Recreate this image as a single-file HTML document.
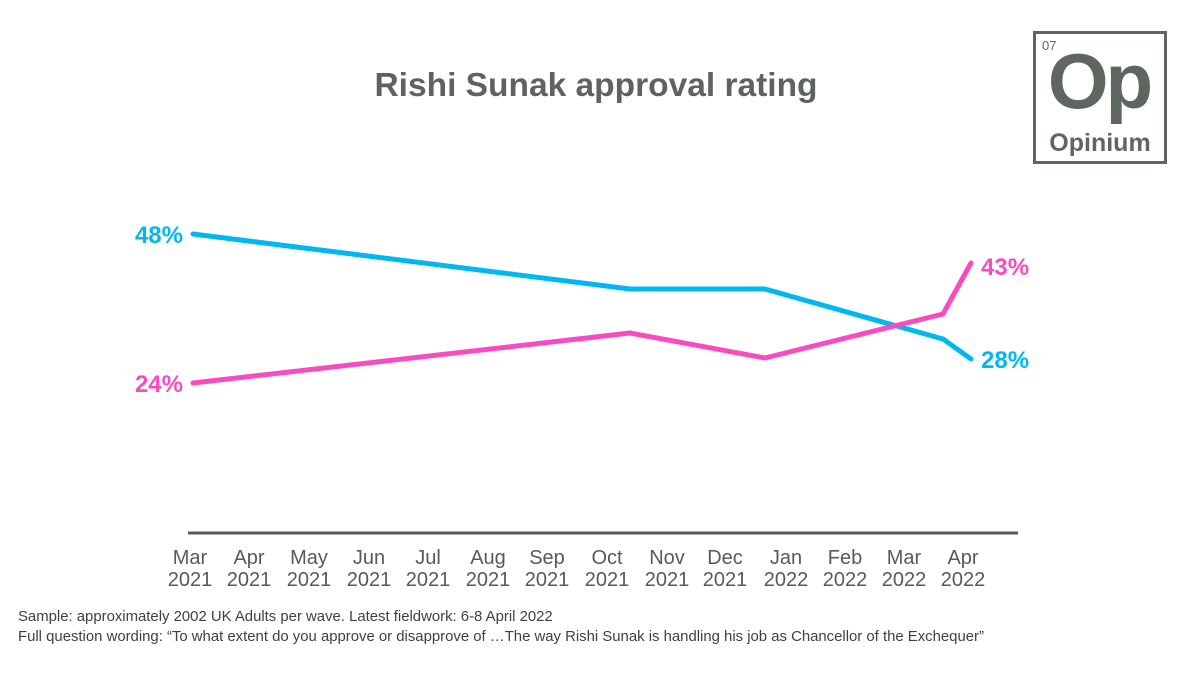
<!DOCTYPE html>
<html><head><style>
body{margin:0;background:#fff;width:1192px;height:670px;overflow:hidden;font-family:"Liberation Sans",sans-serif}
</style></head><body>
<svg width="1192" height="670" xmlns="http://www.w3.org/2000/svg" font-family="Liberation Sans, sans-serif">
<text x="596" y="96" text-anchor="middle" font-size="33.5" font-weight="bold" fill="#5f6360">Rishi Sunak approval rating</text>
<rect x="1034.5" y="32.5" width="131" height="130" fill="none" stroke="#5f6660" stroke-width="3"/>
<text x="1042" y="50" font-size="13" fill="#5f6660">07</text>
<text x="1099" y="108" text-anchor="middle" font-size="78" font-weight="bold" fill="#5f6660" letter-spacing="-3">Op</text>
<text x="1100" y="151" text-anchor="middle" font-size="25" font-weight="bold" fill="#5f6660">Opinium</text>
<line x1="188" y1="533" x2="1018" y2="533" stroke="#595959" stroke-width="3"/>
<polyline points="193,234 630,289 765,289 943,339 971,359" fill="none" stroke="#00b8f0" stroke-width="5" stroke-linecap="round" stroke-linejoin="round"/>
<polyline points="193,383 630,333 765,358 943,314 971,263" fill="none" stroke="#f94bc0" stroke-width="5" stroke-linecap="round" stroke-linejoin="round"/>
<g font-size="24" font-weight="bold">
<text x="183" y="243" text-anchor="end" fill="#00b8f0">48%</text>
<text x="183" y="392" text-anchor="end" fill="#f94bc0">24%</text>
<text x="981" y="275" fill="#f94bc0">43%</text>
<text x="981" y="368" fill="#00b8f0">28%</text>
</g>
<g font-size="20" fill="#595959" text-anchor="middle">
<text x="190" y="564">Mar</text><text x="190" y="586">2021</text>
<text x="249" y="564">Apr</text><text x="249" y="586">2021</text>
<text x="309" y="564">May</text><text x="309" y="586">2021</text>
<text x="369" y="564">Jun</text><text x="369" y="586">2021</text>
<text x="428" y="564">Jul</text><text x="428" y="586">2021</text>
<text x="488" y="564">Aug</text><text x="488" y="586">2021</text>
<text x="547" y="564">Sep</text><text x="547" y="586">2021</text>
<text x="607" y="564">Oct</text><text x="607" y="586">2021</text>
<text x="667" y="564">Nov</text><text x="667" y="586">2021</text>
<text x="725" y="564">Dec</text><text x="725" y="586">2021</text>
<text x="786" y="564">Jan</text><text x="786" y="586">2022</text>
<text x="845" y="564">Feb</text><text x="845" y="586">2022</text>
<text x="904" y="564">Mar</text><text x="904" y="586">2022</text>
<text x="963" y="564">Apr</text><text x="963" y="586">2022</text>
</g>
<g font-size="14.9" fill="#404040">
<text x="18" y="621">Sample: approximately 2002 UK Adults per wave. Latest fieldwork: 6-8 April 2022</text>
<text x="18" y="641">Full question wording: “To what extent do you approve or disapprove of …The way Rishi Sunak is handling his job as Chancellor of the Exchequer”</text>
</g>
</svg>
</body></html>
